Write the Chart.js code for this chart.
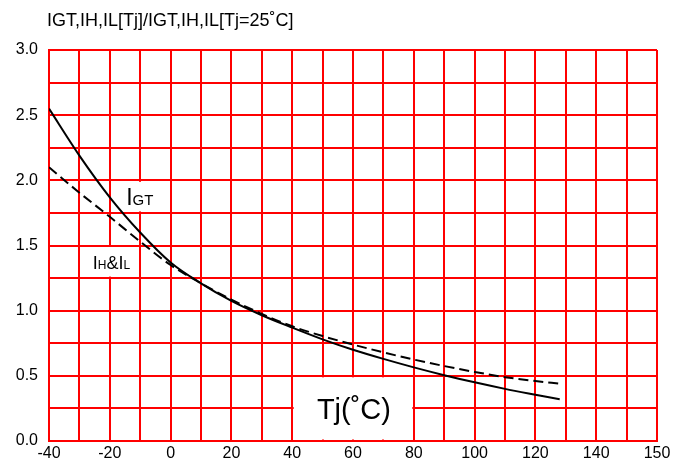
<!DOCTYPE html>
<html>
<head>
<meta charset="utf-8">
<script src="https://cdn.jsdelivr.net/npm/chart.js@4"></script>
<style>
html,body{margin:0;padding:0;background:#fff;}
#wrap{width:677px;height:466px;}
</style>
</head>
<body>
<div id="wrap"><canvas id="c" width="677" height="466"></canvas></div>
<script>
// ---- data ----
const tj   = [-40, -30, -20, -10, 0, 10, 20, 30, 40, 50, 60, 70, 80, 90, 100, 110, 120, 128];
const igt  = [2.55, 2.19, 1.87, 1.60, 1.37, 1.21, 1.075, 0.965, 0.87, 0.78, 0.70, 0.63, 0.565, 0.505, 0.45, 0.40, 0.355, 0.32];
const ihil = [2.10, 1.905, 1.72, 1.53, 1.35, 1.21, 1.085, 0.975, 0.88, 0.805, 0.74, 0.68, 0.625, 0.575, 0.53, 0.49, 0.46, 0.44];
const xTickValues = [-40, -20, 0, 20, 40, 60, 80, 100, 120, 140, 160];
const xTickText   = ['-40', '-20', '0', '20', '40', '60', '80', '100', '120', '140', '150'];
const yTickValues = [0, 0.5, 1.0, 1.5, 2.0, 2.5, 3.0];
const yTickText   = ['0.0', '0.5', '1.0', '1.5', '2.0', '2.5', '3.0'];
const titleText = 'IGT,IH,IL[Tj]/IGT,IH,IL[Tj=25˚C]';

const FONT = '"Liberation Sans", Arial, sans-serif';
const RED = '#ff0000';

const overlay = {
  id: 'overlay',
  beforeDatasetsDraw(chart) {
    const {ctx, scales: {x, y}} = chart;
    ctx.save();
    ctx.fillStyle = '#fff';
    const box = (x0, x1, y0, y1) => {
      const px0 = x.getPixelForValue(x0) + 1.5, px1 = x.getPixelForValue(x1) - 1.5;
      const py0 = y.getPixelForValue(y1) + 1.5, py1 = y.getPixelForValue(y0) - 1.5;
      ctx.fillRect(px0, py0, px1 - px0, py1 - py0);
    };
    box(-20, 0, 1.75, 2.0);
    box(-30, -10, 1.25, 1.5);
    box(40, 80, 0, 0.5);
    ctx.restore();
  },
  afterDatasetsDraw(chart) {
    const {ctx, scales: {x, y}} = chart;
    ctx.save();
    ctx.fillStyle = '#000';
    ctx.textBaseline = 'alphabetic';
    ctx.textAlign = 'left';
    // title
    ctx.font = '18px ' + FONT;
    ctx.fillText(titleText, 47, 26);
    // IGT label
    let px = x.getPixelForValue(-14.6), py = 205;
    ctx.font = '23px ' + FONT;
    ctx.fillText('I', px, py);
    px += ctx.measureText('I').width;
    ctx.font = '15px ' + FONT;
    ctx.fillText('GT', px, py);
    // IH&IL label
    px = x.getPixelForValue(-25.6); py = 269;
    const parts = [['I', 18], ['H', 12], ['&', 18], ['I', 18], ['L', 12]];
    for (const [t, s] of parts) {
      ctx.font = s + 'px ' + FONT;
      ctx.fillText(t, px, py);
      px += ctx.measureText(t).width;
    }
    // Tj label
    ctx.font = '29px ' + FONT;
    ctx.textAlign = 'center';
    ctx.fillText('Tj(˚C)', x.getPixelForValue(60.3), 419);
    ctx.restore();
  }
};

new Chart(document.getElementById('c'), {
  type: 'line',
  data: {
    datasets: [
      {
        label: 'IGT',
        data: tj.map((t, i) => ({x: t, y: igt[i]})),
        borderColor: '#000',
        borderWidth: 2,
        pointRadius: 0,
        fill: false,
        cubicInterpolationMode: 'monotone'
      },
      {
        label: 'IH&IL',
        data: tj.map((t, i) => ({x: t, y: ihil[i]})),
        borderColor: '#000',
        borderWidth: 2,
        borderDash: [10, 5],
        pointRadius: 0,
        fill: false,
        cubicInterpolationMode: 'monotone'
      }
    ]
  },
  options: {
    responsive: false,
    animation: false,
    devicePixelRatio: 1,
    layout: {padding: {top: 50, right: 20, left: 0, bottom: 0}},
    plugins: {legend: {display: false}, tooltip: {enabled: false}},
    scales: {
      x: {
        type: 'linear',
        min: -40, max: 160,
        ticks: {
          stepSize: 10,
          autoSkip: false,
          maxRotation: 0,
          padding: 3,
          color: '#000',
          font: {family: FONT, size: 16},
          callback: (v) => {
            const i = xTickValues.indexOf(v);
            return i >= 0 ? xTickText[i] : '';
          }
        },
        grid: {color: RED, lineWidth: 2, drawTicks: false},
        border: {color: RED, width: 2},
        afterFit: (s) => { s.height = 25; }
      },
      y: {
        type: 'linear',
        min: 0, max: 3,
        ticks: {
          stepSize: 0.25,
          autoSkip: false,
          padding: 11,
          color: '#000',
          font: {family: FONT, size: 16},
          callback: (v) => {
            const i = yTickValues.findIndex(t => Math.abs(t - v) < 1e-9);
            return i >= 0 ? yTickText[i] : '';
          }
        },
        grid: {color: RED, lineWidth: 2, drawTicks: false},
        border: {color: RED, width: 2},
        afterFit: (s) => { s.width = 49; }
      }
    }
  },
  plugins: [overlay]
});
</script>
</body>
</html>
